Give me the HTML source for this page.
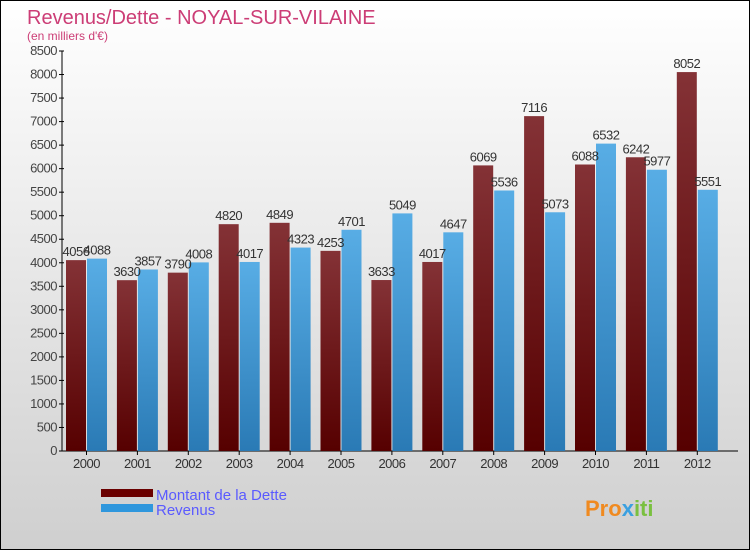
<!DOCTYPE html>
<html><head><meta charset="utf-8"><style>
body{margin:0}
#c{width:750px;height:550px;position:relative;box-sizing:border-box;border:1px solid #000;background:linear-gradient(#fff,#cfcfcf);font-family:"Liberation Sans",sans-serif;overflow:hidden}
</style></head><body>
<div id="c">
<svg id="s" width="750" height="550" style="position:absolute;left:0;top:0">
<defs>
<linearGradient id="gd" x1="0" y1="0" x2="0" y2="1"><stop offset="0" stop-color="#843236"/><stop offset="1" stop-color="#560000"/></linearGradient>
<linearGradient id="gr" x1="0" y1="0" x2="0" y2="1"><stop offset="0" stop-color="#58ade5"/><stop offset="1" stop-color="#2a7ab5"/></linearGradient>
</defs>
<text x="26" y="23" font-size="20" fill="#cc3d76">Revenus/Dette - NOYAL-SUR-VILAINE</text>
<text x="26" y="39" font-size="12" fill="#cc3d76">(en milliers d'€)</text>
<g id="g"></g>
<rect x="100" y="488" width="52" height="8" fill="#6a0000"/>
<rect x="100" y="503" width="52" height="8" fill="#2f97dd"/>
<text x="155" y="499" font-size="15" fill="#5a5aff">Montant de la Dette</text>
<text x="155" y="514" font-size="15" fill="#5a5aff">Revenus</text>
<text x="584" y="515" font-size="22" font-weight="bold" fill="#f08a20">Pro<tspan fill="#3aa0e0">x</tspan><tspan fill="#7ac040">iti</tspan></text>
</svg>
</div>
<script>
const years=["2000","2001","2002","2003","2004","2005","2006","2007","2008","2009","2010","2011","2012"];
const dette=[4056,3630,3790,4820,4849,4253,3633,4017,6069,7116,6088,6242,8052];
const revenus=[4088,3857,4008,4017,4323,4701,5049,4647,5536,5073,6532,5977,5551];
const ticks=[0,500,1000,1500,2000,2500,3000,3500,4000,4500,5000,5500,6000,6500,7000,7500,8000,8500];
const NS="http://www.w3.org/2000/svg";
const g=document.getElementById('g');
const y=v=>450-v*400/8500;
const gx=i=>61+i*50.9;
function mk(t,a){const e=document.createElementNS(NS,t);for(const k in a)e.setAttribute(k,a[k]);g.appendChild(e);return e;}
let ax=mk('line',{x1:61,y1:50,x2:61,y2:450,stroke:'#000'});


let bx=mk('line',{x1:58,y1:450,x2:737,y2:450,stroke:'#000'});


ticks.forEach(t=>{
 mk('line',{x1:58,y1:y(t),x2:63,y2:y(t),stroke:'#000'});
 const e=mk('text',{x:56,y:y(t)+4,'font-size':13,fill:'#444','text-anchor':'end','letter-spacing':'-0.5'});e.textContent=t;
 
 
});
years.forEach((yr,i)=>{
 const x0=gx(i);
 const d=mk('rect',{x:x0+4,y:y(dette[i]),width:20,height:450-y(dette[i]),fill:'url(#gd)'});
 
 
 const r=mk('rect',{x:x0+25,y:y(revenus[i]),width:20,height:450-y(revenus[i]),fill:'url(#gr)'});
 
 
 const l1=mk('text',{x:x0+14,y:y(dette[i])-4,'font-size':13,fill:'#333','text-anchor':'middle','letter-spacing':'-0.5'});l1.textContent=dette[i];
 
 
 const l2=mk('text',{x:x0+35,y:y(revenus[i])-4,'font-size':13,fill:'#333','text-anchor':'middle','letter-spacing':'-0.5'});l2.textContent=revenus[i];
 
 
 mk('line',{x1:x0+24.5,y1:450,x2:x0+24.5,y2:454,stroke:'#000'});
 const xl=mk('text',{x:x0+24.5,y:467,'font-size':13,fill:'#333','text-anchor':'middle','letter-spacing':'-0.5'});xl.textContent=yr;
 
 
});
</script>
</body></html>
